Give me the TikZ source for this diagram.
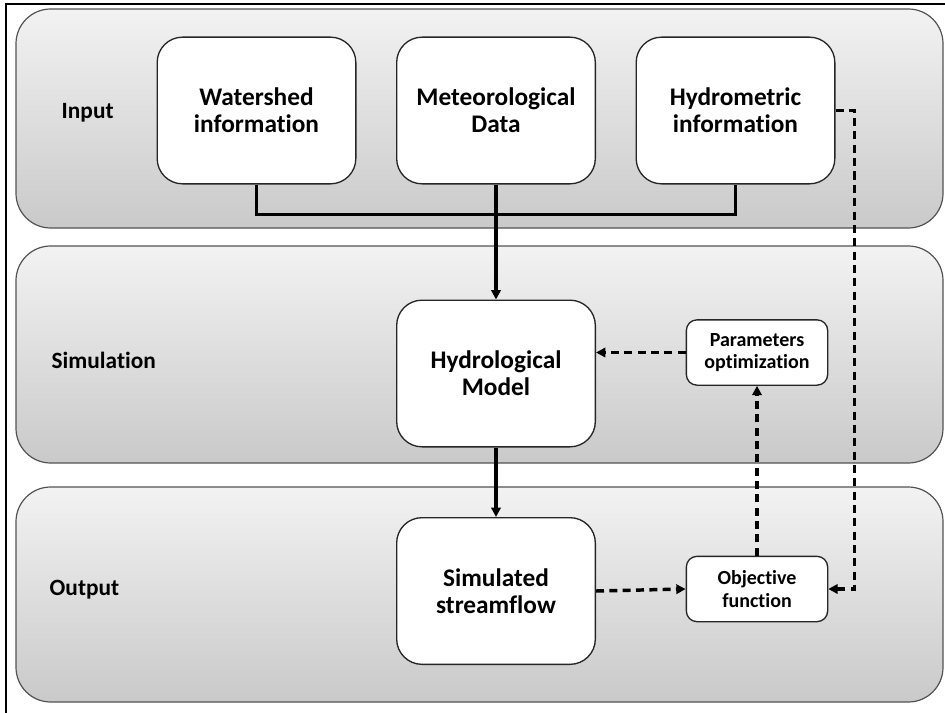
\documentclass[tikz,border=0pt]{standalone}
\usepackage{fontspec}
\setmainfont{Carlito}[Ligatures={NoCommon}]
\usetikzlibrary{arrows.meta}

\tikzset{
  band/.style={draw=gray!65!black, line width=0.9pt, rounded corners=26pt,
    top color=gray!10, bottom color=gray!42},
  bigbox/.style={draw=gray!30!black, line width=1pt, fill=white, rounded corners=19pt,
    minimum width=149pt, minimum height=110pt, inner sep=0pt, align=center,
    font=\bfseries\fontsize{19}{20.5}\selectfont},
  smallbox/.style={draw=gray!30!black, line width=1pt, fill=white, rounded corners=8pt,
    minimum width=106pt, minimum height=49pt, inner sep=0pt, align=center,
    font=\bfseries\fontsize{15}{17}\selectfont},
  stage/.style={anchor=west, font=\bfseries\fontsize{17.5}{20}\selectfont},
  link/.style={line width=2.6pt, black},
  dlink/.style={line width=2.6pt, black, dash pattern=on 6pt off 4pt,
    -{Triangle[length=7pt, width=7pt]}}
}

\begin{document}
\begin{tikzpicture}[x=0.75pt, y=-0.75pt]
  \useasboundingbox (0,0) rectangle (945,713);
  % frame of the figure
  \draw[line width=2pt] (6,713) -- (6,4) -- (945,4);

  % --- stage bands ---
  \draw[band] (16,9) rectangle (943,228);
  \draw[band] (16,246) rectangle (943,463);
  \draw[band] (16,487) rectangle (943,702);

  \node[stage] (lblin)  at (57, 113) {Input};
  \node[stage] (lblsim) at (47, 360) {Simulation};
  \node[stage] (lblout) at (45, 590) {Output};

  % --- input row ---
  \node[bigbox] (ws)  at (256.5, 110.5) {Watershed\\information};
  \node[bigbox] (met) at (496, 110.5)   {Meteorological\\Data};
  \node[bigbox] (hy)  at (735.5, 110.5) {Hydrometric\\information};

  % --- simulation row ---
  \node[bigbox]   (model) at (496, 373.5) {Hydrological\\Model};
  \node[smallbox] (par)   at (757, 352.5) {Parameters\\optimization};

  % --- output row ---
  \node[bigbox]   (sim) at (496, 591) {Simulated\\streamflow};
  \node[smallbox] (obj) at (757, 589)   {Objective\\function};

  % solid links
  \draw[link] (ws.south) -- ++(0,30) -| (hy.south);
  \draw[link, -{Triangle[length=7pt, width=7pt]}] (met.south) -- (model.north);
  \draw[link, -{Triangle[length=7pt, width=7pt]}] (model.south) -- (sim.north);

  % dashed calibration loop
  \draw[dlink] (hy.east) -- ++(19,0) |- (obj.east);
  \draw[dlink] (sim.east) -- (obj.west);
  \draw[dlink] (obj.north) -- (par.south);
  \draw[dlink] (par.west) -- (par.west -| model.east);
\end{tikzpicture}
\end{document}
